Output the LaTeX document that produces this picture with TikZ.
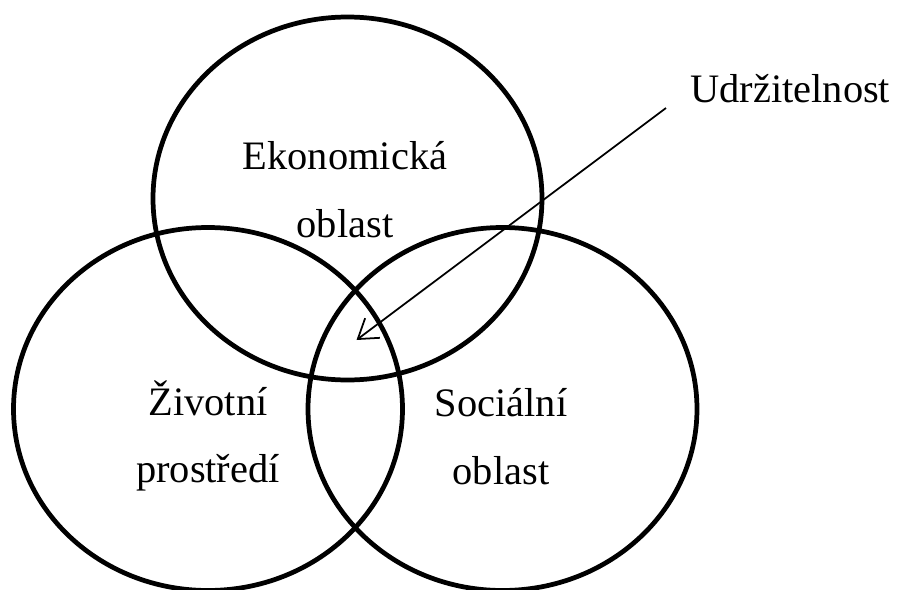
\documentclass[tikz,border=0pt]{standalone}
\usepackage{fontspec}
\setmainfont{Liberation Serif}
\usepackage{tikz}
\usetikzlibrary{arrows.meta,positioning,shapes.geometric}

\begin{document}
\begin{tikzpicture}[
        kruh/.style={draw, ellipse, line width=2.7pt, minimum width=7.78cm, minimum height=7.26cm, inner sep=0pt},
        popis/.style={align=center, inner sep=0pt, font=\fontsize{23}{38.6}\selectfont},
        arr/.style={-{Straight Barb[length=10.5pt, width=14pt]}, line width=1pt}
      ]
        \useasboundingbox (0,0) rectangle (17.94,-11.8);
        \node[kruh] (eko) at (6.95,-3.97) {};
        \node[kruh] (ziv) at (4.16,-8.18) {};
        \node[kruh] (soc) at (10.05,-8.18) {};
        \node[popis] (ekot) at ([xshift=-0.05cm, yshift=0.17cm]eko.center) {Ekonomická\\oblast};
        \node[popis] (zivt) at ([yshift=-0.54cm]ziv.center) {Životní\\prostředí};
        \node[popis] (soct) at ([xshift=-0.03cm, yshift=-0.56cm]soc.center) {Sociální\\oblast};
        \node[popis, anchor=base west] (udr) at (13.8,-2.054) {Udržitelnost};
        \coordinate (jadro) at (7.13,-6.8);
        \draw[arr] ([shift={(-0.48cm,-0.106cm)}]udr.base west) -- (jadro);
      \end{tikzpicture}
\end{document}
